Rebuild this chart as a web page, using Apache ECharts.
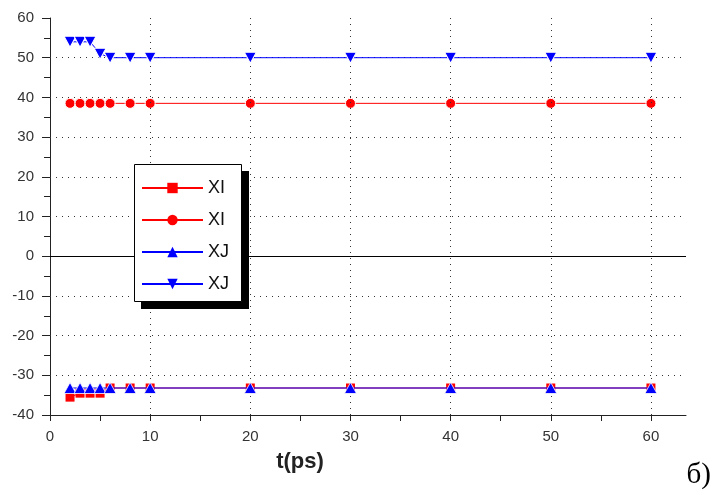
<!DOCTYPE html>
<html><head><meta charset="utf-8">
<script src="https://cdn.jsdelivr.net/npm/echarts@6/dist/echarts.min.js"></script>
<style>html,body{margin:0;padding:0;background:#fff}#c{width:714px;height:495px}</style>
</head><body><div id="c"></div>
<script>
var tValues = [2, 3, 4, 5, 6, 8, 10, 20, 30, 40, 50, 60];
var xiSquare = [-35.5, -34.5, -34.5, -34.5, -33.2, -33.2, -33.2, -33.2, -33.2, -33.2, -33.2, -33.2];
var xiCircle = [38.5, 38.5, 38.5, 38.5, 38.5, 38.5, 38.5, 38.5, 38.5, 38.5, 38.5, 38.5];
var xjUp = [-33.2, -33.2, -33.2, -33.2, -33.2, -33.2, -33.2, -33.2, -33.2, -33.2, -33.2, -33.2];
var xjDown = [54, 54, 54, 51, 50, 50, 50, 50, 50, 50, 50, 50];
var seriesNames = ['XI', 'XI', 'XJ', 'XJ'];
var xTickValues = [0, 5, 10, 15, 20, 25, 30, 35, 40, 45, 50, 55, 60];
var xLabelValues = [0, 10, 20, 30, 40, 50, 60];
var yGridValues = [-30, -20, -10, 10, 20, 30, 40, 50];
var xGridValues = [10, 20, 30, 40, 50, 60];

function pairs(ys) { return tValues.map(function (t, i) { return [t, ys[i]]; }); }

var RED = '#ff0000', BLUE = '#0000ff';
var chart = echarts.init(document.getElementById('c'), null, { renderer: 'canvas' });
var dotted = { color: '#333', width: 1, type: [1, 5] };

var gridMarks = [];
xGridValues.forEach(function (v) { gridMarks.push({ xAxis: v, lineStyle: dotted }); });
yGridValues.forEach(function (v) { gridMarks.push({ yAxis: v, lineStyle: dotted }); });
gridMarks.push({ yAxis: 0, lineStyle: { color: '#000', width: 1, type: 'solid' } });

function mkSeries(idx, ys, color, symbol, size, rotate, border) {
  return {
    name: seriesNames[idx] + '_' + idx,
    type: 'line',
    data: pairs(ys),
    symbol: symbol,
    symbolSize: size,
    symbolRotate: rotate || 0,
    showAllSymbol: true,
    animation: false,
    lineStyle: { color: color, width: 1 },
    itemStyle: { color: color, borderColor: '#fff', borderWidth: border },
    z: 3 + idx
  };
}

var series = [
  mkSeries(0, xiSquare, RED, 'rect', 9, 0, 0),
  mkSeries(1, xiCircle, RED, 'circle', 10, 0, 1),
  mkSeries(2, xjUp, BLUE, 'triangle', [12, 11], 0, 0.8),
  mkSeries(3, xjDown, BLUE, 'triangle', [12, 11], 180, 1)
];
series.unshift({
  type: 'line', data: [], silent: true, z: 1,
  markLine: { silent: true, symbol: 'none', label: { show: false }, animation: false, data: gridMarks }
});

chart.setOption({
  animation: false,
  backgroundColor: '#fff',
  grid: { left: 50, right: 28, top: 18, bottom: 80 },
  xAxis: {
    type: 'value', min: 0, max: 63.5,
    name: 't(ps)', nameLocation: 'middle', nameGap: 36,
    nameTextStyle: { fontFamily: 'Liberation Sans', fontWeight: 'bold', fontSize: 22, color: '#222', padding: [0, 136, 0, 0] },
    axisLine: { onZero: false, lineStyle: { color: '#222', width: 1 } },
    axisTick: { show: true, length: 6, customValues: xTickValues, lineStyle: { color: '#222' } },
    axisLabel: { customValues: xLabelValues, fontFamily: 'Liberation Sans', fontSize: 15, color: '#333', margin: 14 },
    splitLine: { show: false }
  },
  yAxis: {
    type: 'value', min: -40, max: 60, interval: 10,
    axisLine: { show: true, onZero: false, lineStyle: { color: '#222', width: 1 } },
    axisTick: { show: true, length: 8, lineStyle: { color: '#222' } },
    minorTick: { show: true, splitNumber: 2, length: 6, lineStyle: { color: '#222' } },
    axisLabel: { fontFamily: 'Liberation Sans', fontSize: 15, color: '#333', margin: 16 },
    splitLine: { show: false }
  },
  legend: {
    orient: 'vertical', left: 134, top: 164,
    data: series.slice(1).map(function (s) { return s.name; }),
    formatter: function (n) { return n.split('_')[0]; },
    itemWidth: 61, itemHeight: 13, itemGap: 14,
    padding: [15, 12, 13, 7],
    backgroundColor: 'transparent', borderWidth: 0,
    textStyle: { fontFamily: 'Liberation Sans', fontSize: 18, color: '#111' },
    itemStyle: { borderWidth: 0 },
    selectedMode: false,
    z: 20
  },
  graphic: [
    { type: 'rect', shape: { x: 141, y: 171, width: 108, height: 138 }, style: { fill: '#000' }, z: 15 },
    { type: 'rect', shape: { x: 134.5, y: 164.5, width: 107, height: 137 }, style: { fill: '#fff', stroke: '#000', lineWidth: 1 }, z: 16 },
    { type: 'text', right: 3, top: 461, style: { text: 'б)', font: '29px "Liberation Serif"', fill: '#000' }, z: 16 }
  ],
  series: series
});
</script></body></html>
